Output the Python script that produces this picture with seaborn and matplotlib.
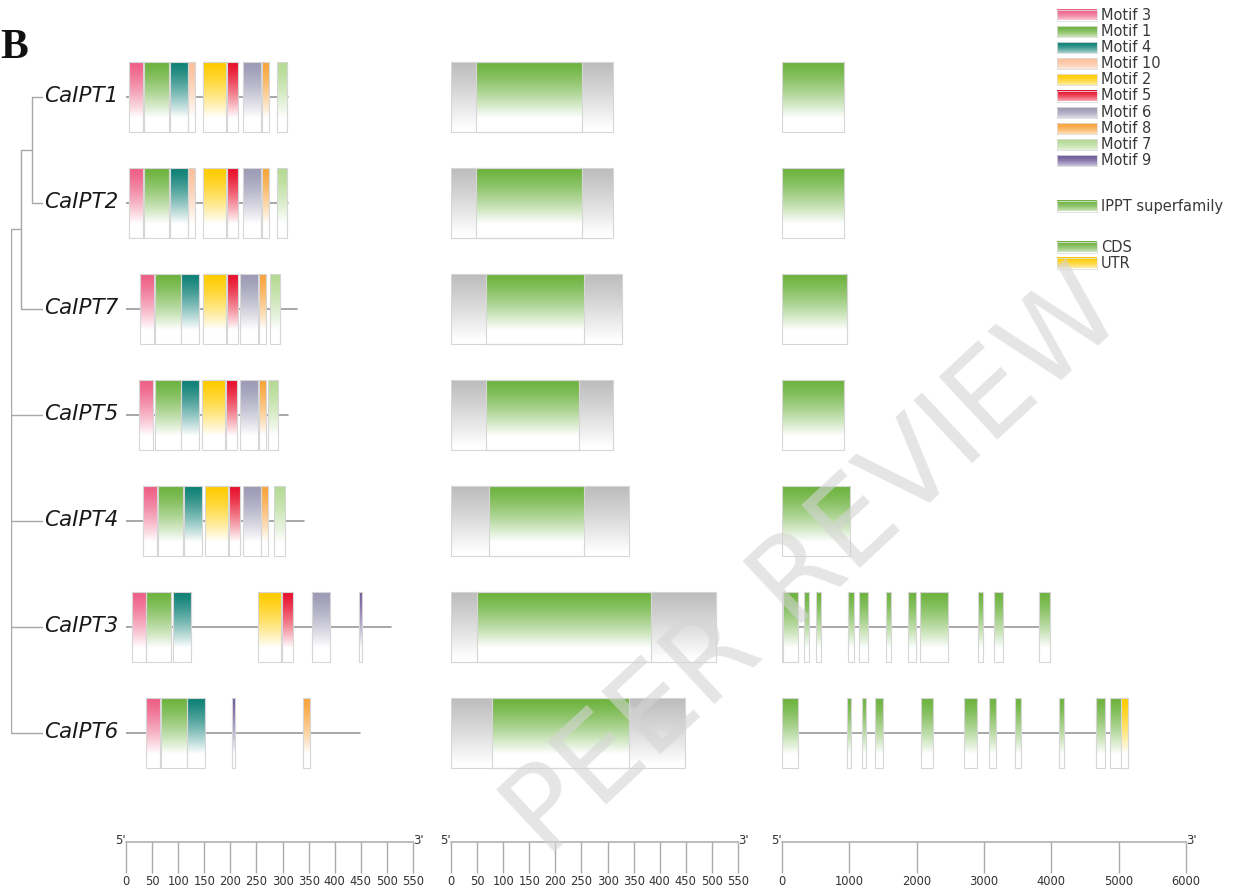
import numpy as np
import matplotlib
matplotlib.use("Agg")
import matplotlib.pyplot as plt
from matplotlib.patches import Rectangle
import seaborn as sns

# ---- data ----
genes = ["CaIPT1", "CaIPT2", "CaIPT7", "CaIPT5", "CaIPT4", "CaIPT3", "CaIPT6"]

# tree topology (leaves in display order)
tree = (((("CaIPT1", "CaIPT2"), "CaIPT7"), "CaIPT5", "CaIPT4", "CaIPT3", "CaIPT6"))
node_depth = [0.0, 0.31, 0.66]  # depth of internal nodes by nesting level, leaves at 1

# protein lengths (aa)
protein_len = [310, 310, 327, 311, 341, 507, 449]

# motifs
motif_order = [3, 1, 4, 10, 2, 5, 6, 8, 7, 9]
motif_width = {3: 27, 1: 49, 4: 35, 10: 13, 2: 44, 5: 21, 6: 35, 8: 13, 7: 20, 9: 6}
motif_colors = {3: "#ee5f86", 1: "#6db33f", 4: "#0e8177", 10: "#fbc09a", 2: "#ffcc00",
                5: "#e8112d", 6: "#9c9ab5", 8: "#f9a43a", 7: "#b4da93", 9: "#6e5a9a"}

caipt1_motifs = [(3, 6), (1, 34), (4, 84), (10, 119), (2, 148), (5, 194), (6, 224), (8, 261), (7, 289)]
caipt2_motifs = [(3, 6), (1, 34), (4, 84), (10, 119), (2, 148), (5, 194), (6, 224), (8, 261), (7, 289)]
caipt7_motifs = [(3, 27), (1, 56), (4, 105), (2, 148), (5, 194), (6, 218), (8, 255), (7, 276)]
caipt5_motifs = [(3, 25), (1, 56), (4, 105), (2, 146), (5, 192), (6, 218), (8, 255), (7, 272)]
caipt4_motifs = [(3, 33), (1, 61), (4, 111), (2, 151), (5, 197), (6, 224), (8, 259), (7, 284)]
caipt3_motifs = [(3, 11), (1, 38), (4, 90), (2, 253), (5, 299), (6, 356), (9, 447)]
caipt6_motifs = [(3, 38), (1, 67), (4, 117), (9, 203), (8, 339)]
motif_hits = [caipt1_motifs, caipt2_motifs, caipt7_motifs, caipt5_motifs,
              caipt4_motifs, caipt3_motifs, caipt6_motifs]

# conserved domain (IPPT superfamily)
domain_start = [48, 48, 67, 67, 73, 50, 79]
domain_end = [251, 251, 255, 245, 255, 383, 341]

# gene structure (bp)
gene_len = [925, 925, 970, 925, 1015, 3982, 5146]
caipt1_exons = [(0, 925)]
caipt2_exons = [(0, 925)]
caipt7_exons = [(0, 970)]
caipt5_exons = [(0, 925)]
caipt4_exons = [(0, 1015)]
caipt3_exons = [(0, 235), (322, 401), (500, 575), (986, 1065), (1140, 1273), (1545, 1624),
                (1872, 1987), (2055, 2472), (2917, 2991), (3150, 3289), (3814, 3982)]
caipt6_exons = [(0, 235), (961, 1025), (1193, 1253), (1387, 1506), (2065, 2239), (2709, 2898),
                (3081, 3180), (3457, 3556), (4111, 4190), (4661, 4804), (4878, 5146)]
exons = [caipt1_exons, caipt2_exons, caipt7_exons, caipt5_exons,
         caipt4_exons, caipt3_exons, caipt6_exons]
utrs = [[], [], [], [], [], [(0, 18)], [(5037, 5146)]]

aa_ticks = list(range(0, 551, 50))
bp_ticks = list(range(0, 6001, 1000))

GREEN = "#6db33f"
YELLOW = "#ffcc00"
GREY = "#bdbdbd"
LINE = "#9a9a9a"

W, H = 1251, 892
ROW0, ROWSTEP = 97, 106
HALF = 0.33


def px2row(py):
    return (py - ROW0) / ROWSTEP


def gradient_box(ax, x0, x1, y0, y1, color, fade=0.8, power=1.3,
                 edge="#d6d6d6", lw=0.8, z=3):
    # vertical fade from the colour at the top to white further down
    cmap = sns.blend_palette([color, "white"], as_cmap=True)
    t = np.linspace(0, 1, 120)
    mix = np.clip(t / fade, 0, 1) ** power
    cols = cmap(mix)[:, None, :3]
    ax.imshow(cols, extent=(x0, x1, y1, y0), aspect="auto",
              interpolation="bilinear", zorder=z)
    ax.add_patch(Rectangle((x0, y0), x1 - x0, y1 - y0, fill=False,
                           ec=edge, lw=lw, zorder=z + 1))


def panel_axis(fig, left_px, right_px, xmax, ticks):
    ax = fig.add_axes([left_px / W, 0, (right_px - left_px) / W, 1])
    ax.set_facecolor("none")
    for s in ["top", "left", "right"]:
        ax.spines[s].set_visible(False)
    ax.spines["bottom"].set_position(("data", px2row(842)))
    ax.spines["bottom"].set_color("#aaaaaa")
    ax.spines["bottom"].set_linewidth(1.1)
    ax.set_xticks(ticks)
    ax.set_xticklabels([str(t) for t in ticks])
    ax.tick_params(axis="x", bottom=True, direction="out", length=22, width=1.0,
                   color="#aaaaaa", pad=2, labelsize=8.3, labelcolor="#333333")
    ax.set_yticks([])
    ax.text(0, px2row(840), "5'", ha="right", va="center", fontsize=8.5, color="#333333")
    ax.text(xmax, px2row(840), "3'", ha="left", va="center", fontsize=8.5, color="#333333")
    return ax


sns.set_style("white")
plt.rcParams["font.family"] = ["DejaVu Sans"]

fig = plt.figure(figsize=(W / 100, H / 100), dpi=100)

# ---- tree ----
ax_tree = fig.add_axes([11 / W, 0, 32 / W, 1])
ax_tree.axis("off")


def draw_node(node, level, parent_x):
    if isinstance(node, str):
        y = genes.index(node)
        ax_tree.plot([parent_x, 1.0], [y, y], color="#a8a8a8", lw=1.0, solid_capstyle="butt")
        ax_tree.text(1.02, y + 0.05, node, ha="left", va="baseline", fontsize=15.5,
                     style="italic", color="#1a1a1a", clip_on=False)
        return y
    x = node_depth[level]
    ys = [draw_node(child, level + 1, x) for child in node]
    ax_tree.plot([x, x], [min(ys), max(ys)], color="#a8a8a8", lw=1.0)
    y = (min(ys) + max(ys)) / 2
    if parent_x is not None:
        ax_tree.plot([parent_x, x], [y, y], color="#a8a8a8", lw=1.0)
    return y


draw_node(tree, 0, None)
ax_tree.set_xlim(0, 1)
ax_tree.set_ylim(px2row(H), px2row(0))

# ---- motif panel ----
ax_m = panel_axis(fig, 126, 413, 550, aa_ticks)
for i, g in enumerate(genes):
    ax_m.plot([0, protein_len[i]], [i, i], color=LINE, lw=1.2, zorder=1)
    for m, start in motif_hits[i]:
        gradient_box(ax_m, start, start + motif_width[m], i - HALF, i + HALF, motif_colors[m])
ax_m.set_xlim(0, 550)
ax_m.set_ylim(px2row(H), px2row(0))

# ---- domain panel ----
ax_d = panel_axis(fig, 451, 738, 550, aa_ticks)
for i, g in enumerate(genes):
    gradient_box(ax_d, 0, protein_len[i], i - HALF, i + HALF, GREY, fade=0.95, power=1.1)
    gradient_box(ax_d, domain_start[i], domain_end[i], i - HALF, i + HALF, GREEN)
ax_d.set_xlim(0, 550)
ax_d.set_ylim(px2row(H), px2row(0))

# ---- gene structure panel ----
ax_g = panel_axis(fig, 782, 1186, 6000, bp_ticks)
for i, g in enumerate(genes):
    ax_g.plot([0, gene_len[i]], [i, i], color=LINE, lw=1.2, zorder=1)
    for s, e in exons[i]:
        gradient_box(ax_g, s, e, i - HALF, i + HALF, GREEN)
    for s, e in utrs[i]:
        gradient_box(ax_g, s, e, i - HALF, i + HALF, YELLOW, z=5)
ax_g.set_xlim(0, 6000)
ax_g.set_ylim(px2row(H), px2row(0))

# ---- overlay: legend, panel letter, watermark ----
ax_o = fig.add_axes([0, 0, 1, 1])
ax_o.set_facecolor("none")
ax_o.axis("off")
legend_items = [(f"Motif {m}", motif_colors[m], 15 + 16.2 * k) for k, m in enumerate(motif_order)]
legend_items += [("IPPT superfamily", GREEN, 206), ("CDS", GREEN, 247), ("UTR", YELLOW, 263)]
for label, col, yc in legend_items:
    gradient_box(ax_o, 1057, 1097, yc - 5.5, yc + 5.5, col, fade=1.3, power=1.6,
                 edge="#dddddd", lw=0.6)
    ax_o.text(1101, yc, label, ha="left", va="center", fontsize=10.5, color="#383838")
ax_o.set_xlim(0, W)
ax_o.set_ylim(H, 0)

fig.text(0.0, 1 - 58 / H, "B", fontsize=30, family="Liberation Serif",
         weight="bold", va="baseline", ha="left", color="#111111")

fig.text(815 / W, 1 - 565 / H, "PEER REVIEW", fontsize=84, rotation=43,
         ha="center", va="center", color="#d4d4d4", alpha=0.6, zorder=10)

fig.savefig("out.png", dpi=100)
